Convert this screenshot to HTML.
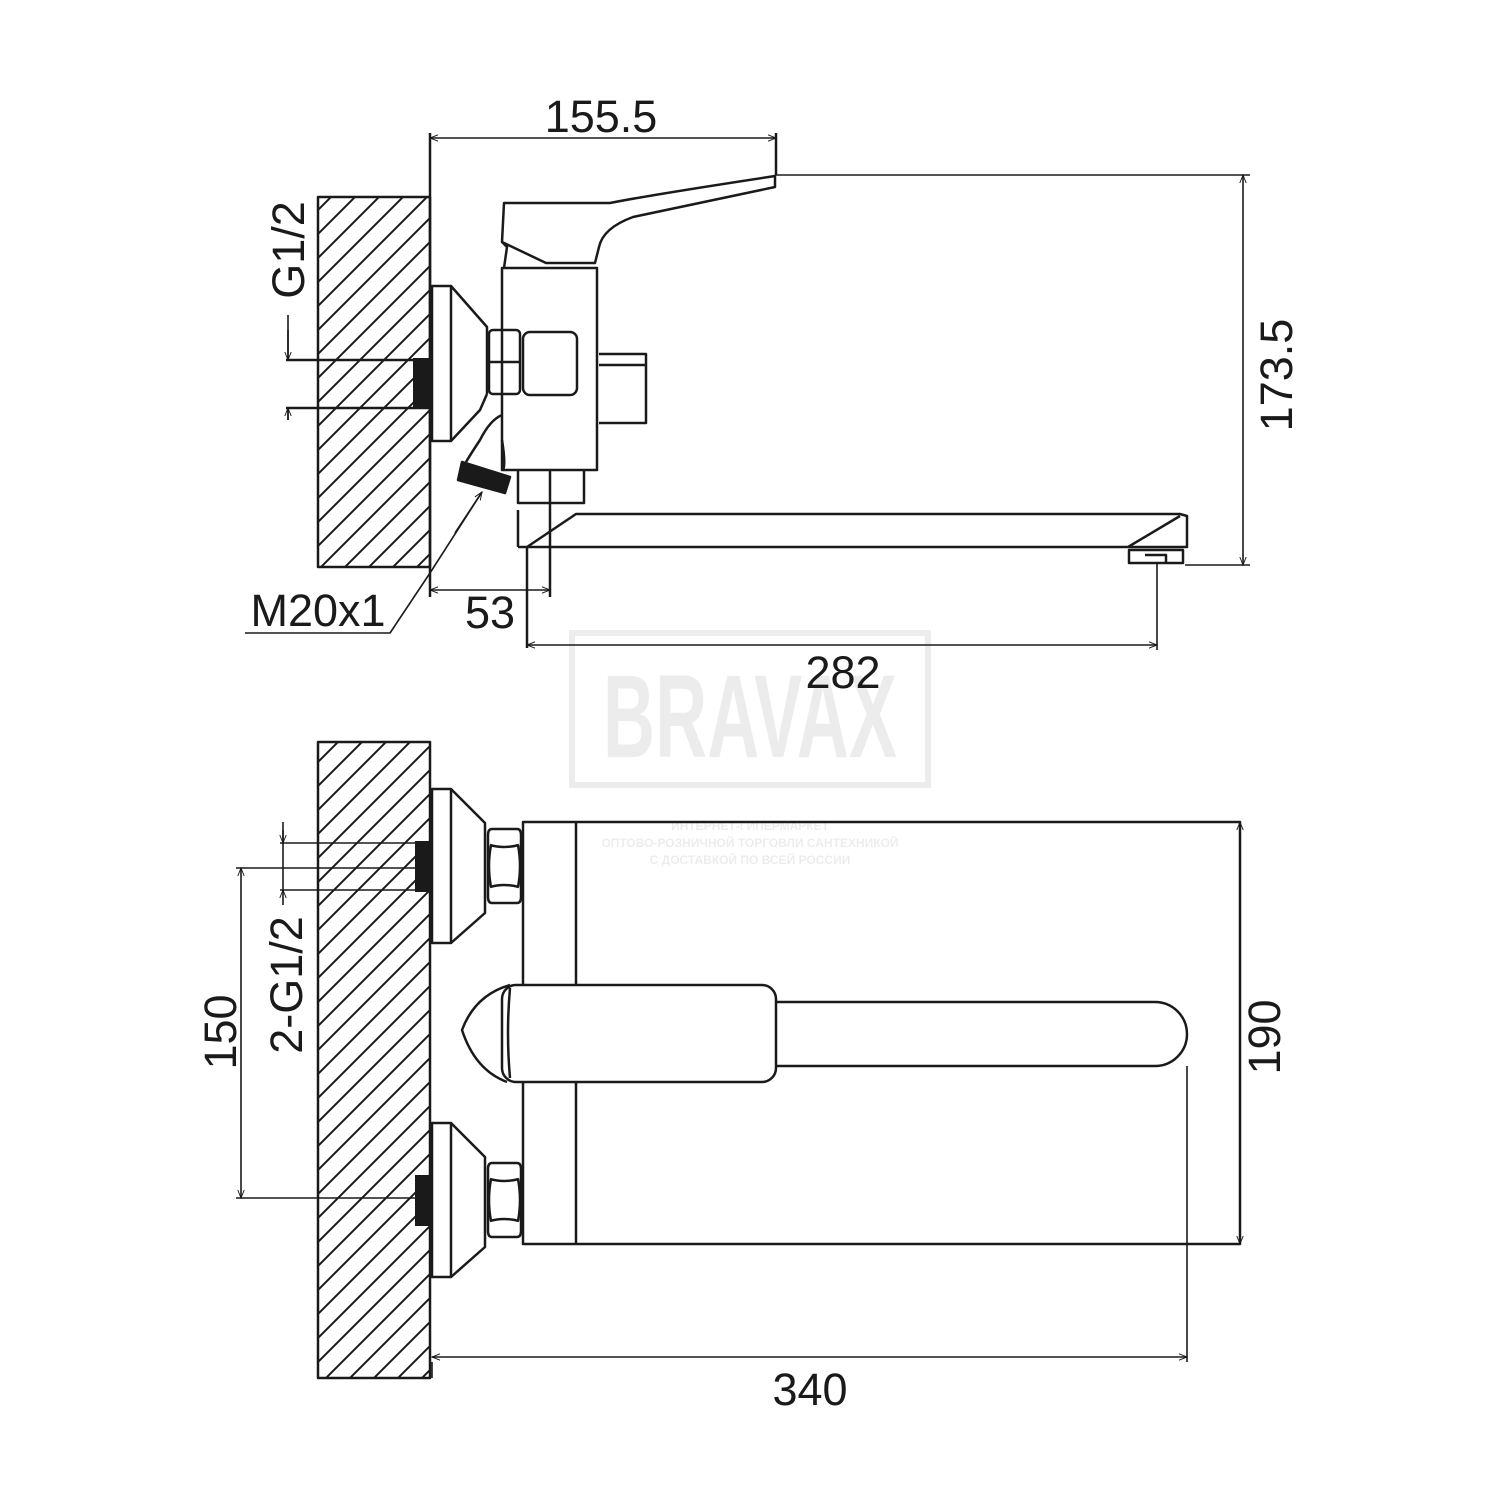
<!DOCTYPE html>
<html><head><meta charset="utf-8"><style>body{margin:0;background:#fff}svg{display:block}text{font-family:"Liberation Sans",sans-serif;fill:#1a1a1a}</style></head><body>
<svg width="1500" height="1500" viewBox="0 0 1500 1500" xmlns="http://www.w3.org/2000/svg">
<defs>
<pattern id="h" patternUnits="userSpaceOnUse" width="24" height="24"><path d="M-2,26 L26,-2 M-6,6 L6,-6 M18,30 L30,18" stroke="#1a1a1a" stroke-width="2"/></pattern>
<marker id="a" viewBox="0 0 10 10" refX="10" refY="5" markerWidth="14" markerHeight="8" orient="auto-start-reverse" markerUnits="userSpaceOnUse"><path d="M0,1 L10,5 L0,9" fill="none" stroke="#1a1a1a" stroke-width="1.2"/></marker>
</defs>
<!-- watermark -->
<g opacity="0.07"><rect x="572" y="633" width="356" height="152" fill="none" stroke="#000" stroke-width="6"/>
<text x="603" y="757" font-size="118" font-weight="bold" textLength="294" lengthAdjust="spacingAndGlyphs" style="fill:#000">BRAVAX</text>
<text x="750" y="830" text-anchor="middle" font-size="12" font-weight="bold" style="fill:#000">ИНТЕРНЕТ-ГИПЕРМАРКЕТ</text>
<text x="750" y="847" text-anchor="middle" font-size="12" font-weight="bold" style="fill:#000">ОПТОВО-РОЗНИЧНОЙ ТОРГОВЛИ САНТЕХНИКОЙ</text>
<text x="750" y="864" text-anchor="middle" font-size="12" font-weight="bold" style="fill:#000">С ДОСТАВКОЙ ПО ВСЕЙ РОССИИ</text></g>

<g fill="none" stroke="#1a1a1a" stroke-width="2.5" stroke-linejoin="round">
<!-- TOP VIEW -->
<rect x="318" y="197" width="112" height="370" fill="url(#h)"/>
<path d="M286,360H430M286,408H430"/>
<rect x="413" y="358" width="19" height="51" fill="#1a1a1a" stroke="none"/>
<path d="M432,286H451V441H432Z"/>
<path d="M451,286L487,327V394M487,394L480,410L451,441"/>
<rect x="489" y="330" width="31" height="64" rx="4"/>
<path d="M489,362H520"/>
<rect x="502" y="268" width="95" height="202"/>
<rect x="523" y="332" width="54" height="63" rx="7"/>
<path d="M599,354H646V423H599M599,365H646"/>
<path d="M504,268L507,247L502,242L504,203H610Q650,195 775,176V187L633,217Q603,228 599,247L595,263H546L502,242"/>
<path d="M518,470V503H584V470M550,470V597M518,510V547M527,547V648"/>
<path d="M518,547H1187V516L1180,514H576L527,547M1180,516L1128,547"/>
<path d="M1129,550H1183V563H1129ZM1145,555H1166V563"/>
<path d="M502,415Q490,420 480,440Q472,452 466,462"/>
<path d="M502,440Q506,465 503,470"/>
<path d="M462,462L510,477L505,493L458,480Z" fill="#1a1a1a"/>
<!-- dims top -->
<path d="M430,133V597M776,133V175"/>
<path d="M430,138H776" marker-start="url(#a)" marker-end="url(#a)" stroke-width="1.6"/>
<path d="M776,175H1250M1185,565H1250" stroke-width="1.6"/>
<path d="M1243,175V565" marker-start="url(#a)" marker-end="url(#a)" stroke-width="1.6"/>
<path d="M430,590H550" marker-start="url(#a)" marker-end="url(#a)" stroke-width="1.6"/>
<path d="M527,645H1157" marker-start="url(#a)" marker-end="url(#a)" stroke-width="1.6"/>
<path d="M1157,563V650" stroke-width="1.6"/>
<path d="M288,315V360M288,408V420" stroke-width="1.6"/>
<path d="M288,330V360" marker-end="url(#a)" stroke-width="1.6"/>
<path d="M288,420V408" marker-end="url(#a)" stroke-width="1.6"/>
<path d="M245,633H390L430,573L482,492" stroke-width="1.6"/>
<path d="M455,533L482,492" marker-end="url(#a)" stroke-width="1.6"/>

<!-- BOTTOM VIEW -->
<rect x="318" y="742" width="112" height="636" fill="url(#h)"/>
<rect x="523" y="822" width="717" height="422"/>
<path d="M576,822V1244"/>
<g id="esc"><path d="M432,789H451V943H432Z"/>
<path d="M451,789L485,823V913L451,943"/>
<path d="M492,829H517Q521,829 521,835V897Q521,903 517,903H492Q488,903 488,897V835Q488,829 492,829Z"/>
<path d="M490,845Q504,849 519,845M490,887Q504,883 519,887M491,845Q487,866 491,887M518,845Q522,866 518,887"/>
<rect x="415" y="841" width="17" height="51" fill="#1a1a1a" stroke="none"/></g>
<use href="#esc" y="334"/>
<path d="M236,868H430M236,1198H430M280,843H430M280,890H430" stroke-width="1.6"/>
<path d="M241,868V1198" marker-start="url(#a)" marker-end="url(#a)" stroke-width="1.6"/>
<path d="M283,830V890" stroke-width="1.6"/>
<path d="M283,822V843" marker-end="url(#a)" stroke-width="1.6"/>
<path d="M283,905V890" marker-end="url(#a)" stroke-width="1.6"/>
<path d="M776,1002H1155A32,32 0 0 1 1155,1066H776" fill="#fff"/>
<path d="M510,985Q475,995 462,1030Q475,1070 507,1082" fill="#fff"/>
<rect x="502" y="985" width="274" height="97" rx="14" fill="#fff"/>
<path d="M510,988Q506,1033 510,1078"/>
<path d="M1187,1066V1362M432,1362V1378" stroke-width="1.6"/>
<path d="M432,1357H1187" marker-start="url(#a)" marker-end="url(#a)" stroke-width="1.6"/>
<path d="M1240,822V1244" marker-start="url(#a)" marker-end="url(#a)" stroke-width="1.6"/>
</g>

<g font-size="45">
<text x="601" y="132" text-anchor="middle">155.5</text>
<text x="490" y="628" text-anchor="middle">53</text>
<text x="318" y="626" text-anchor="middle">M20x1</text>
<text x="843" y="688" text-anchor="middle">282</text>
<text x="810" y="1405" text-anchor="middle">340</text>
<text transform="translate(1292,375) rotate(-90)" text-anchor="middle">173.5</text>
<text transform="translate(304,250) rotate(-90)" text-anchor="middle">G1/2</text>
<text transform="translate(1280,1037) rotate(-90)" text-anchor="middle">190</text>
<text transform="translate(236,1032) rotate(-90)" text-anchor="middle">150</text>
<text transform="translate(302,985) rotate(-90)" text-anchor="middle">2-G1/2</text>
</g>
</svg>
</body></html>
